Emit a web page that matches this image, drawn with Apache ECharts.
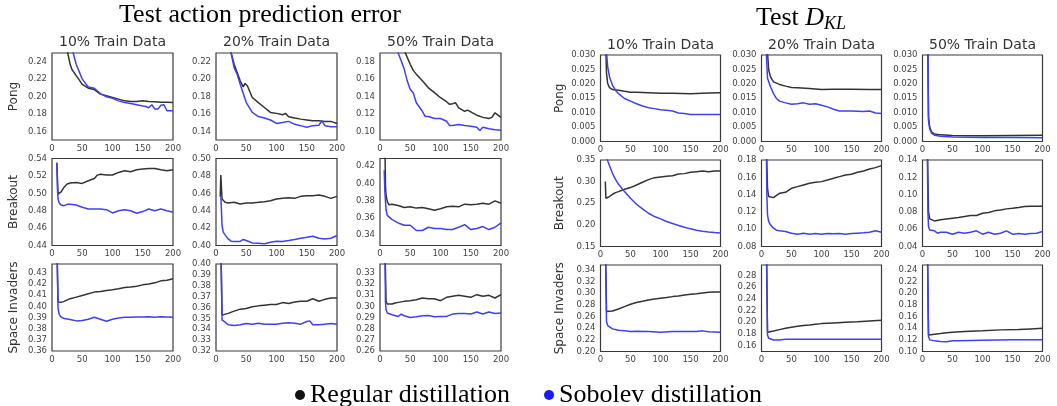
<!DOCTYPE html>
<html><head><meta charset="utf-8">
<script src="https://cdn.jsdelivr.net/npm/echarts@6/dist/echarts.min.js"></script>
<style>html,body{margin:0;padding:0;background:#fff}#c{width:1057px;height:406px}</style>
</head><body><div id="c"></div>
<script>
// ---------- DATA ----------
const games = ['Pong', 'Breakout', 'Space Invaders'];
const fractions = ['10% Train Data', '20% Train Data', '50% Train Data'];
const seriesNames = ['Regular distillation', 'Sobolev distillation'];
const xTicks = [0, 50, 100, 150, 200];

// Test action prediction error  [step, value]
const errPong10R = [[8,0.34],[20,0.27],[26,0.25],[30,0.237],[33,0.231],[40,0.224],[50,0.214],[60,0.2095],[70,0.208],[80,0.2027],[90,0.2008],[100,0.199],[110,0.197],[120,0.195],[130,0.1943],[140,0.1943],[150,0.195],[160,0.1943],[170,0.194],[180,0.1935],[190,0.1935],[200,0.193]];
const errPong10S = [[8,0.36],[25,0.27],[35,0.25],[40,0.237],[50,0.22],[60,0.211],[70,0.2095],[80,0.2034],[90,0.1996],[100,0.198],[110,0.195],[120,0.193],[130,0.192],[140,0.1905],[150,0.189],[155,0.1885],[160,0.187],[165,0.1905],[170,0.1855],[175,0.1855],[180,0.19],[185,0.1905],[190,0.1836],[200,0.1836]];
const errPong20R = [[8,0.30],[25,0.23],[30,0.217],[40,0.198],[45,0.191],[48,0.195],[52,0.192],[60,0.1789],[70,0.173],[80,0.1674],[90,0.1617],[100,0.1606],[110,0.159],[115,0.1606],[120,0.1568],[130,0.1552],[140,0.154],[150,0.153],[160,0.152],[170,0.152],[180,0.1514],[190,0.1514],[200,0.149]];
const errPong20S = [[8,0.30],[25,0.23],[30,0.213],[35,0.2055],[40,0.194],[50,0.173],[60,0.1617],[70,0.157],[80,0.1552],[90,0.153],[100,0.149],[110,0.15],[120,0.1514],[130,0.148],[140,0.1465],[150,0.1446],[160,0.1465],[170,0.147],[175,0.152],[180,0.1465],[190,0.1453],[200,0.1453]];
const errPong50R = [[8,0.30],[42,0.19],[45,0.185],[50,0.177],[55,0.17],[60,0.1657],[70,0.158],[80,0.15],[90,0.1444],[100,0.1386],[110,0.134],[115,0.131],[120,0.1317],[125,0.1328],[130,0.127],[140,0.123],[145,0.1243],[150,0.1224],[160,0.1185],[170,0.116],[180,0.1147],[185,0.116],[190,0.1213],[195,0.1185],[200,0.116]];
const errPong50S = [[8,0.30],[30,0.19],[35,0.181],[40,0.1715],[45,0.158],[50,0.148],[55,0.144],[60,0.1328],[70,0.123],[75,0.117],[80,0.117],[90,0.1147],[100,0.1147],[110,0.1116],[115,0.1066],[120,0.1066],[130,0.1077],[140,0.1066],[150,0.1058],[160,0.1046],[165,0.1008],[170,0.1046],[180,0.103],[190,0.1019],[200,0.1011]];
const errBreak10R = [[8,0.5347],[10,0.499],[12,0.498],[15,0.5017],[20,0.507],[25,0.5106],[30,0.5118],[40,0.5125],[45,0.5118],[50,0.5114],[60,0.5144],[70,0.517],[75,0.5209],[80,0.522],[90,0.521],[100,0.521],[110,0.524],[120,0.5259],[130,0.5247],[140,0.527],[150,0.5278],[160,0.5286],[170,0.5286],[180,0.527],[190,0.5259],[200,0.527]];
const errBreak10S = [[8,0.5354],[9,0.505],[10,0.4934],[12,0.4889],[15,0.4866],[20,0.4858],[25,0.4873],[30,0.4873],[40,0.4866],[50,0.4839],[60,0.482],[70,0.482],[80,0.482],[90,0.4812],[100,0.4774],[110,0.48],[120,0.4812],[130,0.48],[140,0.477],[150,0.479],[160,0.482],[170,0.48],[180,0.482],[190,0.48],[200,0.4782]];
const errBreak20R = [[7,0.456],[8,0.481],[10,0.4534],[15,0.4496],[20,0.4489],[30,0.4496],[40,0.4477],[50,0.4489],[60,0.4489],[70,0.4496],[80,0.4504],[90,0.4515],[100,0.4534],[110,0.4542],[120,0.455],[130,0.4542],[140,0.4565],[150,0.4573],[160,0.4573],[170,0.458],[180,0.4565],[190,0.4542],[200,0.4565]];
const errBreak20S = [[8,0.4573],[10,0.4229],[12,0.4153],[15,0.4122],[20,0.4076],[25,0.405],[30,0.4046],[40,0.4046],[45,0.4069],[50,0.4057],[60,0.403],[70,0.4027],[80,0.402],[90,0.4038],[100,0.405],[110,0.4046],[120,0.4057],[130,0.4069],[140,0.4084],[150,0.4095],[160,0.4107],[170,0.4084],[180,0.4076],[190,0.4084],[200,0.4115]];
const errBreak50R = [[8,0.45],[9,0.398],[10,0.3867],[12,0.379],[15,0.3752],[20,0.376],[30,0.3744],[40,0.3721],[50,0.3729],[60,0.3714],[70,0.3721],[80,0.3706],[90,0.369],[100,0.3706],[110,0.3729],[120,0.3737],[130,0.3729],[140,0.376],[150,0.3752],[160,0.376],[170,0.3771],[180,0.376],[190,0.3798],[200,0.3771]];
const errBreak50S = [[7,0.4154],[8,0.3905],[10,0.3695],[12,0.363],[15,0.3607],[20,0.358],[30,0.3542],[40,0.3515],[50,0.3515],[60,0.3454],[70,0.3454],[80,0.3492],[90,0.3477],[100,0.3477],[110,0.3465],[120,0.3465],[130,0.3492],[140,0.3523],[150,0.3465],[160,0.3477],[170,0.35],[180,0.3465],[190,0.3492],[200,0.3542]];
const errSI10R = [[8,0.46],[10,0.4039],[12,0.4033],[15,0.4036],[20,0.4045],[30,0.4069],[40,0.4083],[50,0.4098],[60,0.4113],[70,0.4128],[80,0.4134],[90,0.4143],[100,0.4149],[110,0.4158],[120,0.417],[130,0.4173],[140,0.4181],[150,0.4193],[160,0.42],[170,0.4211],[180,0.4229],[190,0.4235],[200,0.4247]];
const errSI10S = [[8,0.46],[10,0.398],[12,0.3926],[15,0.3905],[20,0.3891],[30,0.3882],[40,0.387],[50,0.3873],[60,0.3885],[70,0.3902],[80,0.3885],[90,0.3867],[100,0.3885],[110,0.3896],[120,0.3902],[130,0.3902],[140,0.3905],[150,0.3905],[160,0.3908],[170,0.3902],[180,0.3908],[190,0.3905],[200,0.3902]];
const errSI20R = [[8,0.42],[10,0.353],[12,0.3525],[20,0.3546],[30,0.3567],[40,0.3585],[50,0.3591],[60,0.3606],[70,0.3615],[80,0.3621],[90,0.3627],[100,0.3627],[110,0.3645],[120,0.3636],[130,0.3651],[140,0.3657],[150,0.3657],[160,0.3681],[170,0.3657],[180,0.3675],[190,0.3687],[200,0.3687]];
const errSI20S = [[8,0.42],[10,0.3486],[12,0.3477],[15,0.3465],[20,0.3441],[30,0.3435],[40,0.3441],[50,0.3453],[60,0.3447],[70,0.3456],[80,0.3447],[90,0.3447],[100,0.3447],[110,0.3456],[120,0.3459],[130,0.3456],[140,0.3447],[150,0.3471],[155,0.3477],[160,0.3441],[170,0.3441],[180,0.3447],[190,0.3453],[200,0.3447]];
const errSI50R = [[8,0.36],[10,0.3045],[12,0.3021],[15,0.3015],[20,0.3021],[25,0.303],[30,0.3036],[40,0.3045],[50,0.3051],[60,0.306],[70,0.3075],[80,0.3069],[90,0.3069],[100,0.3051],[110,0.3081],[120,0.309],[130,0.3099],[140,0.309],[150,0.3081],[160,0.3105],[170,0.309],[180,0.3099],[190,0.3075],[200,0.3105]];
const errSI50S = [[8,0.36],[9,0.3045],[10,0.297],[12,0.294],[15,0.2931],[20,0.2925],[30,0.291],[35,0.2931],[40,0.2916],[50,0.29],[60,0.2907],[70,0.2915],[80,0.2919],[90,0.2907],[100,0.291],[110,0.291],[120,0.2931],[130,0.2937],[140,0.2937],[150,0.2931],[160,0.2949],[170,0.2931],[180,0.2949],[190,0.2937],[200,0.294]];

// Test D_KL  [step, value]
const klPong10R = [[8,0.04],[10,0.0236],[12,0.0201],[15,0.0187],[20,0.018],[30,0.0178],[40,0.0174],[50,0.0171],[60,0.0171],[80,0.0169],[100,0.0167],[120,0.0167],[150,0.0166],[180,0.0168],[200,0.0169]];
const klPong10S = [[8,0.05],[10,0.031],[12,0.0259],[15,0.0224],[20,0.0195],[25,0.0178],[30,0.0166],[40,0.0149],[50,0.014],[60,0.0131],[70,0.0123],[80,0.0117],[90,0.0114],[100,0.011],[110,0.0108],[120,0.0106],[130,0.0099],[140,0.0097],[150,0.0094],[160,0.0094],[180,0.0094],[200,0.0094]];
const klPong20R = [[8,0.05],[10,0.031],[12,0.0248],[15,0.0224],[20,0.0207],[30,0.0198],[40,0.0192],[50,0.0187],[60,0.0186],[80,0.0184],[100,0.018],[120,0.0181],[150,0.0181],[180,0.018],[200,0.018]];
const klPong20S = [[7,0.05],[8,0.031],[10,0.0219],[15,0.019],[20,0.0166],[25,0.0149],[30,0.014],[40,0.0134],[50,0.0129],[60,0.0131],[70,0.0134],[80,0.0129],[90,0.0131],[100,0.0126],[110,0.012],[120,0.0112],[130,0.0106],[140,0.0106],[150,0.0106],[160,0.0105],[170,0.0104],[180,0.0106],[190,0.0099],[200,0.0097]];
const klPong50R = [[8,0.05],[9,0.03],[10,0.0085],[12,0.005],[15,0.0033],[20,0.0026],[30,0.0023],[50,0.0021],[100,0.002],[150,0.0021],[200,0.0022]];
const klPong50S = [[8,0.05],[9,0.03],[10,0.0073],[12,0.0044],[15,0.0029],[20,0.0022],[30,0.0018],[50,0.0016],[100,0.0014],[150,0.0014],[200,0.0013]];
const klBreak10R = [[8,0.30],[9,0.2615],[10,0.2577],[12,0.26],[15,0.2654],[20,0.2708],[25,0.2746],[30,0.2769],[40,0.2823],[50,0.2862],[60,0.2923],[70,0.2985],[80,0.3046],[90,0.3092],[100,0.3108],[110,0.3123],[120,0.3138],[130,0.3177],[140,0.3185],[150,0.3215],[160,0.3231],[170,0.3246],[180,0.3231],[190,0.3246],[200,0.3246]];
const klBreak10S = [[8,0.40],[10,0.36],[12,0.3477],[15,0.3369],[20,0.3192],[25,0.3054],[30,0.2938],[40,0.2769],[50,0.2615],[60,0.2477],[70,0.2369],[80,0.2269],[90,0.2192],[100,0.2138],[110,0.2077],[120,0.2031],[130,0.1985],[140,0.1946],[150,0.1908],[160,0.1877],[170,0.1854],[180,0.1838],[190,0.1823],[200,0.1815]];
const klBreak20R = [[8,0.20],[10,0.1473],[12,0.1377],[15,0.1358],[20,0.1365],[25,0.139],[30,0.1415],[40,0.1427],[50,0.1473],[60,0.1492],[70,0.1512],[80,0.1531],[90,0.1542],[100,0.155],[110,0.1569],[120,0.1588],[130,0.1608],[140,0.1627],[150,0.1635],[160,0.1658],[170,0.1673],[180,0.1696],[190,0.1712],[200,0.1735]];
const klBreak20S = [[8,0.20],[9,0.138],[10,0.1165],[12,0.1088],[15,0.105],[20,0.1012],[25,0.0988],[30,0.0981],[40,0.0973],[50,0.0954],[60,0.0942],[70,0.0954],[80,0.0942],[90,0.095],[100,0.0942],[110,0.095],[120,0.0946],[130,0.095],[140,0.0942],[150,0.095],[160,0.0954],[170,0.0958],[180,0.0965],[190,0.0981],[200,0.0965]];
const klBreak50R = [[8,0.16],[10,0.0804],[12,0.0719],[15,0.0696],[20,0.0696],[30,0.0708],[40,0.0719],[50,0.0727],[60,0.0735],[70,0.0746],[80,0.0758],[90,0.0758],[100,0.0785],[110,0.0792],[120,0.0812],[130,0.0823],[140,0.0835],[150,0.0842],[160,0.085],[170,0.0862],[180,0.0865],[190,0.0865],[200,0.0865]];
const klBreak50S = [[8,0.16],[9,0.0804],[10,0.0631],[12,0.0592],[15,0.0581],[20,0.0581],[25,0.0554],[30,0.0565],[40,0.0565],[50,0.0542],[60,0.0565],[70,0.0554],[80,0.0565],[90,0.0581],[100,0.0542],[110,0.0565],[120,0.0542],[130,0.0554],[140,0.0581],[150,0.0542],[160,0.055],[170,0.0542],[180,0.055],[190,0.0554],[200,0.0573]];
const klSI10R = [[8,0.40],[10,0.2683],[12,0.2671],[20,0.2694],[30,0.2728],[40,0.2768],[50,0.2808],[60,0.2837],[70,0.2859],[80,0.2882],[90,0.2899],[100,0.2911],[110,0.2922],[120,0.2939],[130,0.295],[140,0.2967],[150,0.2979],[160,0.299],[170,0.3002],[180,0.3013],[190,0.3019],[200,0.3019]];
const klSI10S = [[8,0.40],[10,0.2512],[12,0.2444],[15,0.241],[20,0.2387],[30,0.2364],[40,0.2353],[50,0.2341],[60,0.2347],[80,0.2341],[100,0.233],[120,0.2341],[140,0.2341],[160,0.2341],[170,0.2353],[180,0.2336],[200,0.233]];
const klSI20R = [[8,0.35],[10,0.1829],[12,0.1829],[20,0.1851],[30,0.1874],[40,0.1897],[50,0.1914],[60,0.1931],[70,0.1943],[80,0.1954],[90,0.1966],[100,0.1977],[120,0.1989],[140,0.2],[160,0.2011],[180,0.2023],[200,0.2034]];
const klSI20S = [[8,0.35],[10,0.1783],[12,0.1726],[15,0.1709],[20,0.1697],[30,0.1697],[40,0.1709],[60,0.1709],[100,0.1709],[150,0.1709],[200,0.1709]];
const klSI50R = [[8,0.30],[10,0.1284],[12,0.1273],[20,0.1296],[30,0.1307],[40,0.1319],[50,0.133],[70,0.1341],[100,0.1353],[130,0.137],[160,0.1376],[180,0.1387],[200,0.1398]];
const klSI50S = [[8,0.30],[10,0.1256],[12,0.1199],[15,0.1182],[20,0.1182],[30,0.1171],[40,0.1165],[50,0.1182],[60,0.1182],[100,0.1193],[150,0.1199],[200,0.1199]];

// y ranges (row-major: Pong 10/20/50, Breakout 10/20/50, Space Invaders 10/20/50)
const errYRange = [[0.15,0.25],[0.13,0.23],[0.09,0.19],[0.44,0.54],[0.40,0.50],[0.328,0.429],[0.36,0.438],[0.32,0.40],[0.26,0.338]];
const errYTicks = [
  [0.16,0.18,0.20,0.22,0.24],[0.14,0.16,0.18,0.20,0.22],[0.10,0.12,0.14,0.16,0.18],
  [0.44,0.46,0.48,0.50,0.52,0.54],[0.40,0.42,0.44,0.46,0.48,0.50],[0.34,0.36,0.38,0.40,0.42],
  [0.36,0.37,0.38,0.39,0.40,0.41,0.42,0.43],[0.32,0.33,0.34,0.35,0.36,0.37,0.38,0.39,0.40],[0.26,0.27,0.28,0.29,0.30,0.31,0.32,0.33]];
const klYRange = [[0,0.03],[0,0.03],[0,0.03],[0.15,0.35],[0.08,0.18],[0.04,0.14],[0.20,0.348],[0.15,0.298],[0.10,0.248]];
const klYTicks = [
  [0,0.005,0.01,0.015,0.02,0.025,0.03],[0,0.005,0.01,0.015,0.02,0.025,0.03],[0,0.005,0.01,0.015,0.02,0.025,0.03],
  [0.15,0.20,0.25,0.30,0.35],[0.08,0.10,0.12,0.14,0.16,0.18],[0.04,0.06,0.08,0.10,0.12,0.14],
  [0.20,0.22,0.24,0.26,0.28,0.30,0.32,0.34],[0.16,0.18,0.20,0.22,0.24,0.26,0.28],[0.10,0.12,0.14,0.16,0.18,0.20,0.22,0.24]];
const klYDecimals = [3,3,3,2,2,2,2,2,2];

const errData = [[errPong10R,errPong10S],[errPong20R,errPong20S],[errPong50R,errPong50S],
  [errBreak10R,errBreak10S],[errBreak20R,errBreak20S],[errBreak50R,errBreak50S],
  [errSI10R,errSI10S],[errSI20R,errSI20S],[errSI50R,errSI50S]];
const klData = [[klPong10R,klPong10S],[klPong20R,klPong20S],[klPong50R,klPong50S],
  [klBreak10R,klBreak10S],[klBreak20R,klBreak20S],[klBreak50R,klBreak50S],
  [klSI10R,klSI10S],[klSI20R,klSI20S],[klSI50R,klSI50S]];

// ---------- LAYOUT ----------
const SANS = 'DejaVu Sans';
const SERIF = 'Liberation Serif';
const colors = ['#333333', '#4040f2'];
const groups = [
  {data: errData, ranges: errYRange, ticks: errYTicks, dec: [2,2,2,2,2,2,2,2,2],
   lefts: [52, 216, 380], w: 121, tops: [53, 158.5, 264], h: 87, labelX: 14, titleY: 42.5},
  {data: klData, ranges: klYRange, ticks: klYTicks, dec: klYDecimals,
   lefts: [600.5, 761.5, 922.5], w: 120, tops: [55, 160, 265], h: 86.5, labelX: 560, titleY: 45}
];

const grid = [], xAxis = [], yAxis = [], series = [], graphic = [];
let gi = 0;
groups.forEach(G => {
  for (let r = 0; r < 3; r++) {
    for (let c = 0; c < 3; c++) {
      const k = r * 3 + c;
      grid.push({left: G.lefts[c], top: G.tops[r], width: G.w, height: G.h,
        show: true, borderColor: '#3a3a3a', borderWidth: 1.2, backgroundColor: '#fff', containLabel: false});
      xAxis.push({type: 'value', gridIndex: gi, min: 0, max: 200, interval: 50,
        axisLine: {show: false}, axisTick: {show: false}, splitLine: {show: false},
        axisLabel: {color: '#444', fontFamily: SANS, fontSize: 8.5, margin: 4, customValues: xTicks}});
      const dec = G.dec[k];
      yAxis.push({type: 'value', gridIndex: gi, min: G.ranges[k][0], max: G.ranges[k][1],
        axisLine: {show: false}, axisTick: {show: false}, splitLine: {show: false},
        axisLabel: {color: '#444', fontFamily: SANS, fontSize: 8.5, margin: 5,
          customValues: G.ticks[k], formatter: v => Number(v).toFixed(dec)}});
      G.data[k].forEach((d, si) => {
        series.push({type: 'line', name: seriesNames[si], xAxisIndex: gi, yAxisIndex: gi,
          data: d, showSymbol: false, symbol: 'circle', clip: true,
          lineStyle: {color: colors[si], width: 1.5}, itemStyle: {color: si ? '#1a1aff' : '#111'}});
      });
      gi++;
    }
    graphic.push({type: 'text', x: G.labelX, y: G.tops[r] + G.h / 2, rotation: Math.PI / 2,
      style: {text: games[r], font: '12px "' + SANS + '"', fill: '#333', align: 'center', verticalAlign: 'middle'}});
  }
  for (let c = 0; c < 3; c++) {
    graphic.push({type: 'text', x: G.lefts[c] + G.w / 2, y: G.titleY,
      style: {text: fractions[c], font: '14px "' + SANS + '"', fill: '#333', align: 'center', verticalAlign: 'middle'}});
  }
});

graphic.push({type: 'text', x: 260, y: 15,
  style: {text: 'Test action prediction error', font: '26px "' + SERIF + '"', fill: '#000', align: 'center', verticalAlign: 'middle'}});
graphic.push({type: 'text', x: 801, y: 18,
  style: {text: '{t|Test }{d|D}{s|KL}', align: 'center', verticalAlign: 'middle',
    rich: {
      t: {fontFamily: SERIF, fontSize: 26, color: '#000', lineHeight: 30},
      d: {fontFamily: SERIF, fontSize: 26, color: '#000', fontStyle: 'italic', lineHeight: 30},
      s: {fontFamily: SERIF, fontSize: 18, color: '#000', fontStyle: 'italic', lineHeight: 18, verticalAlign: 'bottom'}
    }}});

const chart = echarts.init(document.getElementById('c'), null, {renderer: 'canvas'});
chart.setOption({
  animation: false,
  backgroundColor: '#fff',
  grid, xAxis, yAxis, series, graphic,
  legend: {data: seriesNames, top: 377, left: 'center', icon: 'circle', itemWidth: 10, itemHeight: 10,
    itemGap: 34, textStyle: {fontFamily: SERIF, fontSize: 26, color: '#000'}}
});
</script></body></html>
